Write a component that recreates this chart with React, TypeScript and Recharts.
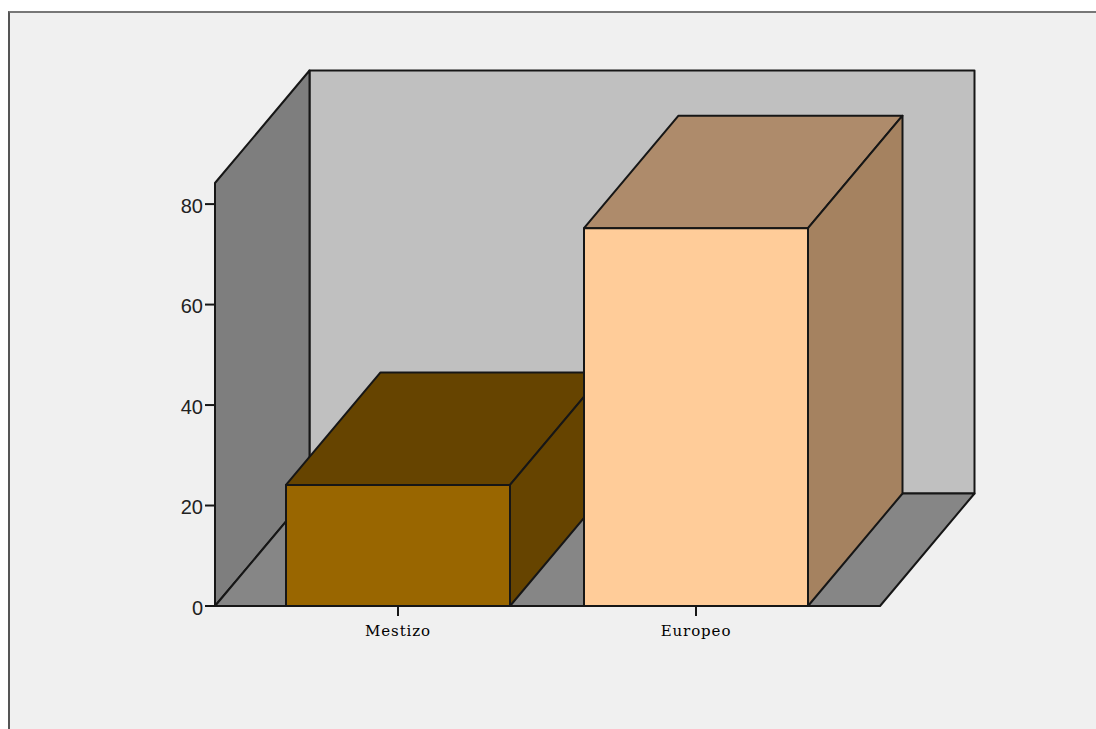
import React from "react";
import { BarChart, Bar, XAxis, YAxis, usePlotArea } from "recharts";

const categories = ["Mestizo", "Europeo"];
const percentages = [24.1, 75.2];
const yTicks = [0, 20, 40, 60, 80];
const yMax = 84.2;

const frontFills = ["#996600", "#ffcc99"];
const topFills = ["#664400", "#ae8b6b"];
const sideFills = ["#664400", "#a58260"];

const chartData = categories.map((name, i) => ({ name, value: percentages[i] }));

// Oblique offset of the 3D box, same for the walls and the bars
const DEPTH_X = 94.5;
const DEPTH_Y = 112.5;
const EDGE = "#161616";

const pts = (list: number[][]) => list.map((p) => p.join(",")).join(" ");

const Walls = () => {
  const area = usePlotArea();
  if (!area) return null;
  const left = area.x;
  const right = area.x + area.width;
  const top = area.y;
  const bottom = area.y + area.height;
  const common = { stroke: EDGE, strokeWidth: 2, strokeLinejoin: "round" as const };

  return (
    <g>
      <polygon
        {...common}
        fill="#c0c0c0"
        points={pts([
          [left + DEPTH_X, top - DEPTH_Y],
          [right + DEPTH_X, top - DEPTH_Y],
          [right + DEPTH_X, bottom - DEPTH_Y],
          [left + DEPTH_X, bottom - DEPTH_Y]
        ])}
      />
      <polygon
        {...common}
        fill="#7e7e7e"
        points={pts([
          [left, top],
          [left + DEPTH_X, top - DEPTH_Y],
          [left + DEPTH_X, bottom - DEPTH_Y],
          [left, bottom]
        ])}
      />
      <polygon
        {...common}
        fill="#868686"
        points={pts([
          [left, bottom],
          [left + DEPTH_X, bottom - DEPTH_Y],
          [right + DEPTH_X, bottom - DEPTH_Y],
          [right, bottom]
        ])}
      />
    </g>
  );
};

const Box = (props: any) => {
  const { x, y, width, height, index } = props;
  const common = { stroke: EDGE, strokeWidth: 2, strokeLinejoin: "round" as const };
  const r = x + width;
  const b = y + height;

  return (
    <g>
      <polygon
        {...common}
        fill={topFills[index]}
        points={pts([
          [x, y],
          [x + DEPTH_X, y - DEPTH_Y],
          [r + DEPTH_X, y - DEPTH_Y],
          [r, y]
        ])}
      />
      <polygon
        {...common}
        fill={sideFills[index]}
        points={pts([
          [r, y],
          [r + DEPTH_X, y - DEPTH_Y],
          [r + DEPTH_X, b - DEPTH_Y],
          [r, b]
        ])}
      />
      <rect {...common} x={x} y={y} width={width} height={height} fill={frontFills[index]} />
    </g>
  );
};

export default function App() {
  return (
    <div
      style={{
        position: "absolute",
        left: 0,
        top: 0,
        width: 1096,
        height: 729,
        overflow: "hidden",
        background: "#ffffff"
      }}
    >
      <div
        style={{
          position: "absolute",
          left: 8,
          top: 11,
          right: 0,
          bottom: 0,
          background: "#f0f0f0",
          borderTop: "2px solid #777777",
          borderLeft: "2px solid #555555"
        }}
      />
      <div style={{ position: "absolute", left: 0, top: 0 }}>
        <BarChart
          width={1096}
          height={729}
          data={chartData}
          barSize={224}
          margin={{ top: 183, right: 216, bottom: 83, left: 155 }}
        >
          <Walls />
          <XAxis
            dataKey="name"
            height={40}
            interval={0}
            padding={{ left: 34, right: 35 }}
            tickSize={10}
            tickMargin={9}
            axisLine={{ stroke: EDGE, strokeWidth: 2 }}
            tickLine={{ stroke: EDGE, strokeWidth: 2 }}
            tick={{
              fill: "#000000",
              fontSize: 15,
              fontFamily: "DejaVu Serif",
              letterSpacing: 0.9
            }}
          />
          <YAxis
            width={60}
            domain={[0, yMax]}
            ticks={yTicks}
            interval={0}
            tickSize={10}
            tickMargin={2}
            axisLine={{ stroke: EDGE, strokeWidth: 2 }}
            tickLine={{ stroke: EDGE, strokeWidth: 2 }}
            tick={{ fill: "#222222", fontSize: 20, fontFamily: "Liberation Sans", dy: 1.5 }}
          />
          <Bar dataKey="value" shape={Box} isAnimationActive={false} />
        </BarChart>
      </div>
    </div>
  );
}
